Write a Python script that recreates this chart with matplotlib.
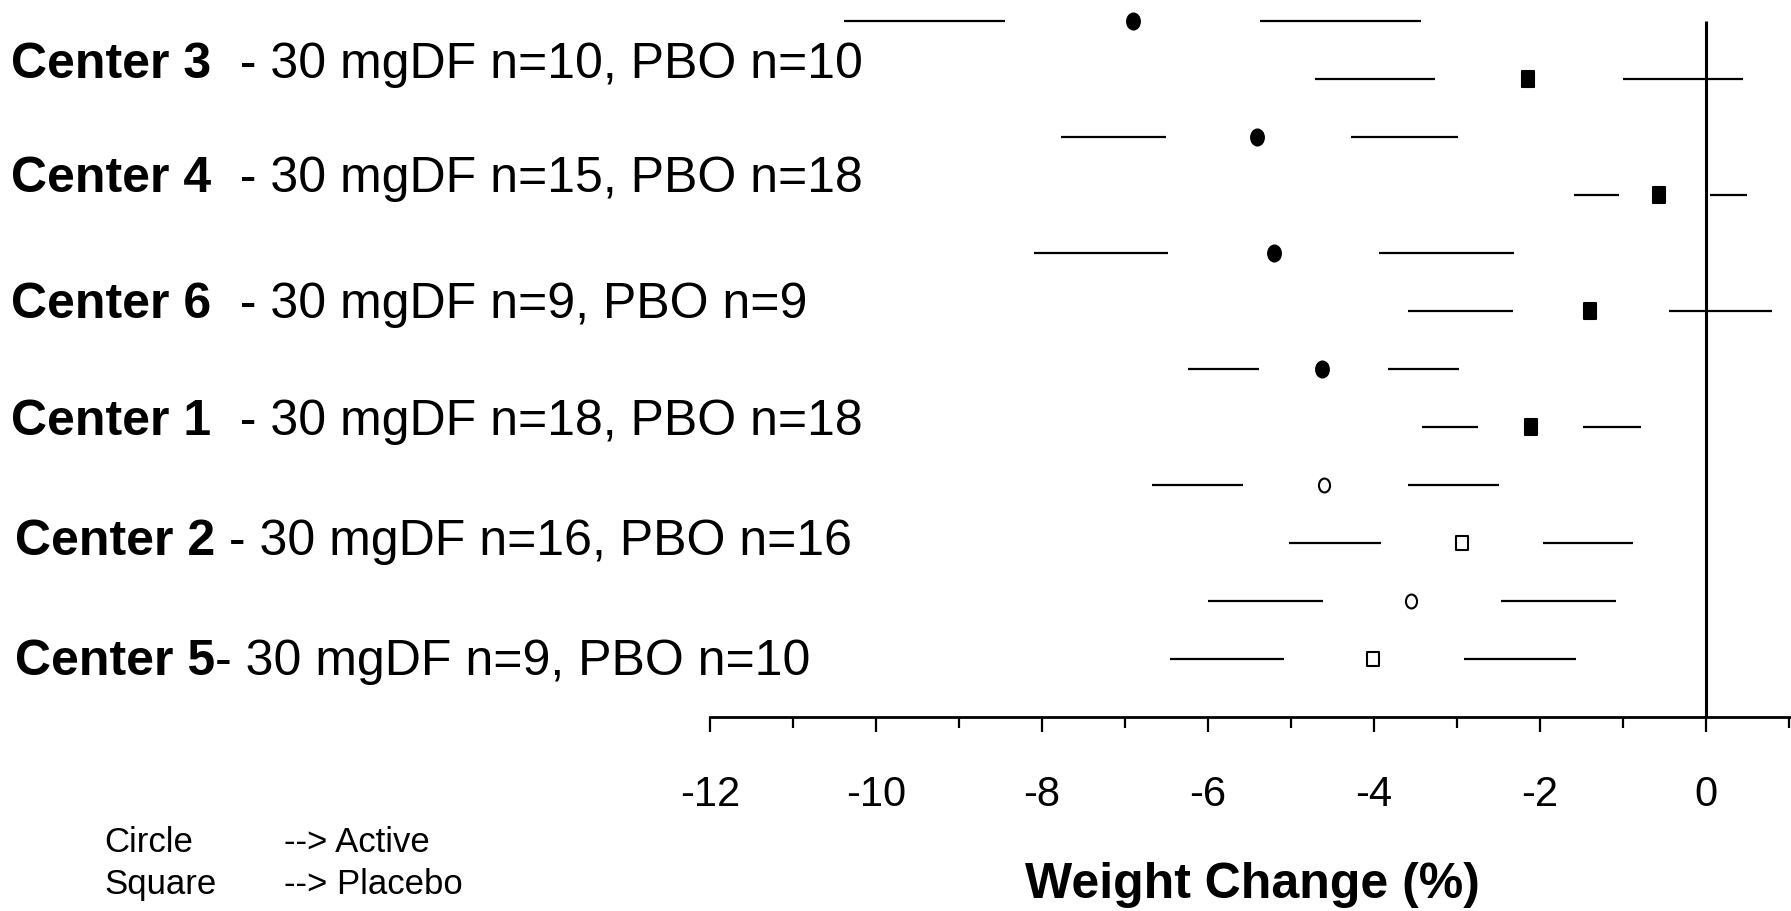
import matplotlib
matplotlib.use("Agg")
import matplotlib.pyplot as plt
from matplotlib.path import Path
from matplotlib.transforms import Affine2D, blended_transform_factory

plt.rcParams['font.family'] = ['Liberation Sans', 'DejaVu Sans']

# ---------------- data ----------------
centers = ["Center 3", "Center 4", "Center 6", "Center 1", "Center 2", "Center 5"]
descriptions = ["  - 30 mgDF n=10, PBO n=10",
                "  - 30 mgDF n=15, PBO n=18",
                "  - 30 mgDF n=9, PBO n=9",
                "  - 30 mgDF n=18, PBO n=18",
                " - 30 mgDF n=16, PBO n=16",
                "- 30 mgDF n=9, PBO n=10"]
filled = [True, True, True, True, False, False]

# Active (circle): outer low, inner low, mean, inner high, outer high
active_lo       = [-10.39, -7.77, -8.10, -6.24, -6.67, -6.00]
active_lo_inner = [-8.45, -6.51, -6.48, -5.39, -5.58, -4.62]
active_mean     = [-6.90, -5.41, -5.21, -4.63, -4.60, -3.55]
active_hi_inner = [-5.38, -4.28, -3.94, -3.83, -3.59, -2.47]
active_hi       = [-3.44, -2.99, -2.31, -2.98, -2.49, -1.09]

# Placebo (square)
placebo_lo       = [-4.71, -1.59, -3.59, -3.42, -5.02, -6.46]
placebo_lo_inner = [-3.27, -1.05, -2.33, -2.75, -3.92, -5.09]
placebo_mean     = [-2.15, -0.57, -1.40, -2.11, -2.94, -4.01]
placebo_hi_inner = [-1.00, 0.05, -0.45, -1.48, -1.96, -2.92]
placebo_hi       = [0.44, 0.49, 0.79, -0.79, -0.88, -1.57]

major_ticks = [-12, -10, -8, -6, -4, -2, 0]
major_labels = ["-12", "-10", "-8", "-6", "-4", "-2", "0"]
minor_ticks = [-11, -9, -7, -5, -3, -1, 1]

legend_shapes = ["Circle", "Square"]
legend_meaning = ["--> Active", "--> Placebo"]
xlabel = "Weight Change (%)"

# ---------------- figure ----------------
W, H = 1791, 911
fig = plt.figure(figsize=(W / 100, H / 100), dpi=100)
ax = fig.add_axes([710 / W, 194.3 / H, 1082 / W, 716.7 / H])
ax.set_xlim(-12, 1.035)
ax.set_ylim(0, 12.37)

ellipse = Path.unit_circle().transformed(Affine2D().scale(0.8, 1.0))
rect = Path.unit_rectangle().transformed(Affine2D().translate(-0.5, -0.5).scale(0.82, 1.0))

n = len(centers)
seg_lw = 1.6
for i in range(n):
    ya = 2 * (n - i)
    yp = ya - 1
    face = 'black' if filled[i] else 'white'
    ms_c = 11.5 if filled[i] else 10
    ms_s = 11 if filled[i] else 10
    # active
    ax.hlines([ya, ya], [active_lo[i], active_hi_inner[i]],
              [active_lo_inner[i], active_hi[i]], color='black', lw=seg_lw)
    ax.plot(active_mean[i], ya, marker=ellipse, ms=ms_c, mfc=face, mec='black',
            mew=1.5, ls='none', zorder=3)
    # placebo
    ax.hlines([yp, yp], [placebo_lo[i], placebo_hi_inner[i]],
              [placebo_lo_inner[i], placebo_hi[i]], color='black', lw=seg_lw)
    ax.plot(placebo_mean[i], yp, marker=rect, ms=ms_s, mfc=face, mec='black',
            mew=1.5, ls='none', zorder=3)

# zero reference line
ax.vlines(0, 0, 2 * n, color='black', lw=2.2)

for s in ['left', 'top', 'right']:
    ax.spines[s].set_visible(False)
ax.spines['bottom'].set_linewidth(2)
ax.set_yticks([])
ax.set_xticks(major_ticks)
ax.set_xticklabels(major_labels)
ax.set_xticks(minor_ticks, minor=True)
ax.tick_params(axis='x', which='major', length=11, width=1.6, direction='out',
               labelsize=30, pad=31)
ax.tick_params(axis='x', which='minor', length=8, width=1.6, direction='out')

# row labels (left)
tr = blended_transform_factory(fig.transFigure, ax.transData)
label_x = [11.4, 11.4, 11.4, 11.4, 14.8, 14.8]
label_base = [11.02, 9.05, 6.88, 4.86, 2.79, 0.72]
for i in range(n):
    t = ax.text(label_x[i] / W, label_base[i], centers[i], transform=tr, fontsize=36,
                fontweight='bold', va='baseline', ha='left', clip_on=False)
    ax.annotate(descriptions[i], xy=(1, 0), xycoords=t, fontsize=36,
                va='bottom', ha='left', annotation_clip=False)

# x label
fig.text(1252 / W, 1 - 885 / H, xlabel, fontsize=36, fontweight='bold',
         ha='center', va='center')

# legend text
for j, (s, m) in enumerate(zip(legend_shapes, legend_meaning)):
    yb = 1 - (852 + 42 * j) / H
    fig.text(104 / W, yb, s, fontsize=25, va='baseline', ha='left')
    fig.text(284 / W, yb, m, fontsize=25, va='baseline', ha='left')

fig.savefig("out.png", dpi=100)
